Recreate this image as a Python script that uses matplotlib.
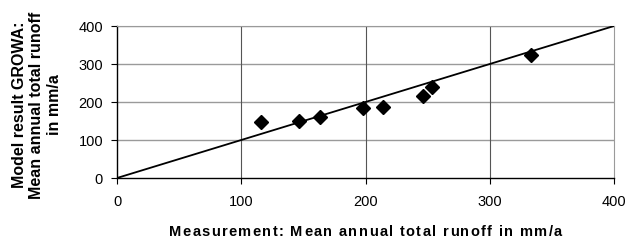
import matplotlib
matplotlib.use("Agg")
import matplotlib.pyplot as plt
from matplotlib.font_manager import FontProperties

# measured vs modelled mean annual total runoff (mm/a)
measured = [115.6, 146.7, 163.4, 198.3, 214.3, 246.5, 253.8, 333.0]
modelled = [148, 149, 161, 184, 188, 216, 239, 325]
ticks = [0, 100, 200, 300, 400]
xlabel = "Measurement: Mean annual total runoff in mm/a"
ylabel = "Model result GROWA:\nMean annual total runoff\nin mm/a"

plt.rcParams["font.family"] = ["Liberation Sans", "DejaVu Sans"]

W, H = 629, 244
fig = plt.figure(figsize=(W / 100, H / 100), dpi=100)
ax = fig.add_axes([117 / W, 1 - 178 / H, 497 / W, 152 / H])

ax.set_xlim(0, 400); ax.set_ylim(0, 400)
ax.set_xticks(ticks); ax.set_yticks(ticks)

# gridlines: horizontal light gray, vertical darker
for t in ticks[1:]:
    ax.axhline(t, color="#9a9a9a", lw=1.0, zorder=1)
for t in ticks[1:4]:
    ax.axvline(t, color="#555555", lw=0.8, zorder=1)

ax.plot([0, 400], [0, 400], color="black", lw=1.3, zorder=3)
ax.plot(measured, modelled, linestyle="none", marker="D", markersize=7.5,
        color="black", zorder=4)

for side in ["top", "right"]:
    ax.spines[side].set_color("#9a9a9a")
for side in ["left", "bottom"]:
    ax.spines[side].set_color("black")
    ax.spines[side].set_linewidth(1.0)

ax.tick_params(direction="out", length=4, width=0.8, labelsize=10.5, pad=6)
ax.tick_params(axis="x", pad=8)

# y label, three centred lines
fig.text(37 / W, 1 - 105 / H, ylabel, rotation=90, ha="center", va="center",
         multialignment="center", fontsize=11.5, fontweight="bold",
         linespacing=1.2)

# x label with a little letter spacing, spread from x=169 to x=562 px
prop = FontProperties(family="Liberation Sans", weight="bold", size=10.5)
renderer = fig.canvas.get_renderer()


def text_w(s):
    # width including trailing spaces, measured against a bar glyph
    w_bar = renderer.get_text_width_height_descent("|", prop, ismath=False)[0]
    return renderer.get_text_width_height_descent(s + "|", prop, ismath=False)[0] - w_bar


x0, x1, base = 169, 562, H - 236
natural = text_w(xlabel)
extra = (x1 - x0 - natural) / (len(xlabel) - 1)
for i, ch in enumerate(xlabel):
    if ch == " ":
        continue
    xp = x0 + text_w(xlabel[:i]) + i * extra
    fig.text(xp / W, base / H, ch, fontproperties=prop, ha="left", va="baseline")

fig.savefig("out.png", dpi=100, facecolor="white")
